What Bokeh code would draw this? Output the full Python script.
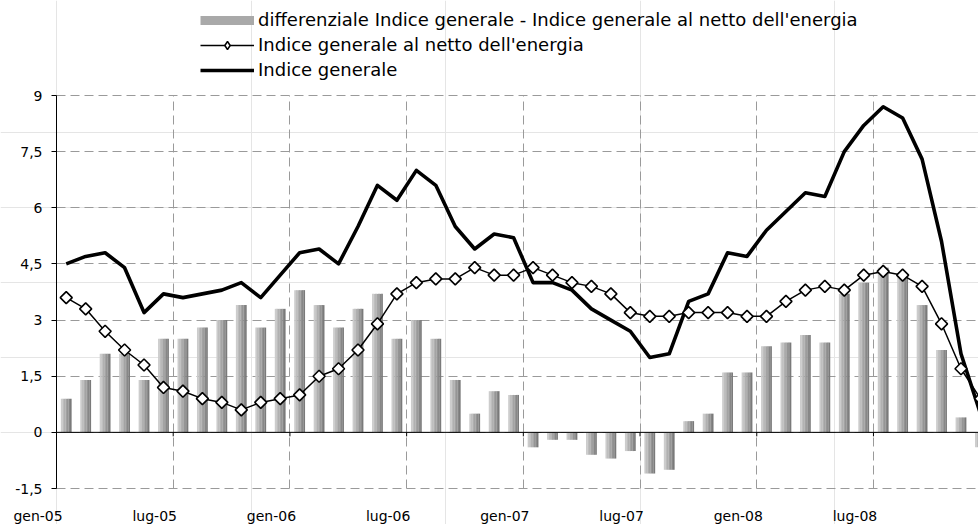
import numpy as np
from bokeh.plotting import figure
from bokeh.models import (FixedTicker, Legend, LegendItem, Range1d, LinearAxis, Grid)
from bokeh.embed import file_html
from bokeh.resources import INLINE

# ---------------- data ----------------
months = [f"{m}-{y:02d}" for y in (5, 6, 7, 8) for m in
          ("gen", "feb", "mar", "apr", "mag", "giu", "lug", "ago", "set", "ott", "nov", "dic")]

indice_generale = [4.5, 4.7, 4.8, 4.4, 3.2, 3.7, 3.6, 3.7, 3.8, 4.0, 3.6, 4.2,
                   4.8, 4.9, 4.5, 5.5, 6.6, 6.2, 7.0, 6.6, 5.5, 4.9, 5.3, 5.2,
                   4.0, 4.0, 3.8, 3.3, 3.0, 2.7, 2.0, 2.1, 3.5, 3.7, 4.8, 4.7,
                   5.4, 5.9, 6.4, 6.3, 7.5, 8.2, 8.7, 8.4, 7.3, 5.1, 2.1, 0.5]

netto_energia = [3.6, 3.3, 2.7, 2.2, 1.8, 1.2, 1.1, 0.9, 0.8, 0.6, 0.8, 0.9,
                 1.0, 1.5, 1.7, 2.2, 2.9, 3.7, 4.0, 4.1, 4.1, 4.4, 4.2, 4.2,
                 4.4, 4.2, 4.0, 3.9, 3.7, 3.2, 3.1, 3.1, 3.2, 3.2, 3.2, 3.1,
                 3.1, 3.5, 3.8, 3.9, 3.8, 4.2, 4.3, 4.2, 3.9, 2.9, 1.7, 0.9]

differenziale = [0.9, 1.4, 2.1, 2.1, 1.4, 2.5, 2.5, 2.8, 3.0, 3.4, 2.8, 3.3,
                 3.8, 3.4, 2.8, 3.3, 3.7, 2.5, 3.0, 2.5, 1.4, 0.5, 1.1, 1.0,
                 -0.4, -0.2, -0.2, -0.6, -0.7, -0.5, -1.1, -1.0, 0.3, 0.5, 1.6, 1.6,
                 2.3, 2.4, 2.6, 2.4, 3.7, 4.0, 4.4, 4.2, 3.4, 2.2, 0.4, -0.4]

y_tick_values = [-1.5, 0, 1.5, 3, 4.5, 6, 7.5, 9]
y_tick_labels = ["-1,5", "0", "1,5", "3", "4,5", "6", "7,5", "9"]

x_tick_months = [0, 6, 12, 18, 24, 30, 36, 42]
x_tick_labels = ["gen-05", "lug-05", "gen-06", "lug-06", "gen-07", "lug-07", "gen-08", "lug-08"]

legend_labels = ["differenziale Indice generale - Indice generale al netto dell'energia",
                 "Indice generale al netto dell'energia",
                 "Indice generale"]

# ---------------- layout constants (pixels) ----------------
W, H = 978, 524
AX_X = 56                # screen x of the value axis
TOP_Y, BOT_Y = 95, 488   # screen y of 9 and -1.5
Y0, Y1 = -1.5, 9
X_VISIBLE = 47.4         # months visible up to the right edge
px_per_unit = (BOT_Y - TOP_Y) / (Y1 - Y0)
px_per_month = (W - AX_X) / X_VISIBLE

x_start = -AX_X / px_per_month
y_end = Y1 + TOP_Y / px_per_unit
y_start = Y0 - (H - BOT_Y) / px_per_unit

FONT = "DejaVu Sans"
xc = np.arange(len(months)) + 0.5
nan = float("nan")

p = figure(width=W, height=H, output_backend="svg", toolbar_location=None,
           x_range=Range1d(x_start, X_VISIBLE), y_range=Range1d(y_start, y_end),
           x_axis_location=None, y_axis_location=None,
           min_border=0, min_border_left=0, min_border_right=0,
           min_border_top=0, min_border_bottom=0)
p.outline_line_color = None
p.background_fill_color = "white"
p.border_fill_color = "white"

# grids (dashed, limited to the plot area)
ygrid = Grid(dimension=1, ticker=FixedTicker(ticks=y_tick_values),
             cross_bounds=(0, X_VISIBLE),
             grid_line_color="#9a9a9a", grid_line_dash="9 5")
xgrid = Grid(dimension=0, ticker=FixedTicker(ticks=x_tick_months),
             cross_bounds=(Y0, Y1),
             grid_line_color="#9a9a9a", grid_line_dash="9 5")
p.add_layout(ygrid)
p.add_layout(xgrid)

# value axis at x = 0
yaxis = LinearAxis(fixed_location=0, bounds=(Y0, Y1),
                   ticker=FixedTicker(ticks=y_tick_values),
                   major_label_overrides={float(v): s for v, s in zip(y_tick_values, y_tick_labels)},
                   major_label_text_font=FONT, major_label_text_font_size="14px",
                   major_label_text_color="black",
                   axis_line_color="black", major_tick_line_color="black",
                   major_tick_out=5, major_tick_in=0, minor_tick_line_color=None,
                   major_label_standoff=9)
p.add_layout(yaxis, "left")

# category labels at the bottom (placed slightly left of the half-year boundaries)
label_pos = [m - 0.95 for m in x_tick_months]
label_axis = LinearAxis(fixed_location=Y0,
                        ticker=FixedTicker(ticks=label_pos),
                        major_label_overrides={float(v): s for v, s in zip(label_pos, x_tick_labels)},
                        major_label_text_font=FONT, major_label_text_font_size="14px",
                        major_label_text_color="black",
                        axis_line_color=None, major_tick_line_color=None,
                        major_tick_out=0, major_tick_in=0, minor_tick_line_color=None,
                        major_label_standoff=19)
p.add_layout(label_axis, "below")

# bars with horizontal gradient (light left -> dark right)
n_strips = 7
bar_w = 0.55
strip_w = bar_w / n_strips
shades = np.linspace(0xcc, 0x7a, n_strips).astype(int)
for j in range(n_strips):
    off = -bar_w / 2 + strip_w * (j + 0.5)
    g = int(shades[j])
    col = f"#{g:02x}{g:02x}{g:02x}"
    p.vbar(x=xc + off, top=differenziale, bottom=0, width=strip_w * 1.08,
           fill_color=col, line_color=None)

# category axis line at y = 0 with half-year tick marks
tick_len = 4 / px_per_unit
p.segment(x0=[0], y0=[0], x1=[X_VISIBLE], y1=[0], line_color="black", line_width=1)
p.segment(x0=x_tick_months[1:], y0=0, x1=x_tick_months[1:], y1=-tick_len,
          line_color="black", line_width=1)

# lines
r_gen = p.line(xc, indice_generale, line_color="black", line_width=3.6, line_join="round")
r_net = p.line(xc, netto_energia, line_color="black", line_width=1.5)
p.scatter(xc, netto_energia, marker="square", angle=np.pi / 4, size=8.5,
          fill_color="white", line_color="black", line_width=1.6)

# legend proxies (not visible in the plot area)
leg_bar = p.line([nan, nan], [nan, nan], line_color="#a9a9a9", line_width=9, line_cap="butt")
leg_dia = p.scatter([nan], [nan], marker="diamond", size=10,
                    fill_color="white", line_color="black", line_width=1.5)

legend = Legend(items=[LegendItem(label=legend_labels[0], renderers=[leg_bar]),
                       LegendItem(label=legend_labels[1], renderers=[r_net, leg_dia]),
                       LegendItem(label=legend_labels[2], renderers=[r_gen])],
                location=(200, 444), orientation="vertical",
                glyph_width=54, glyph_height=20, label_height=20, spacing=4,
                padding=0, margin=0, label_standoff=4,
                border_line_color=None, background_fill_alpha=0,
                label_text_font=FONT, label_text_font_size="18px", label_text_color="black")
p.add_layout(legend)

open("out.html", "w").write(file_html(p, INLINE))
